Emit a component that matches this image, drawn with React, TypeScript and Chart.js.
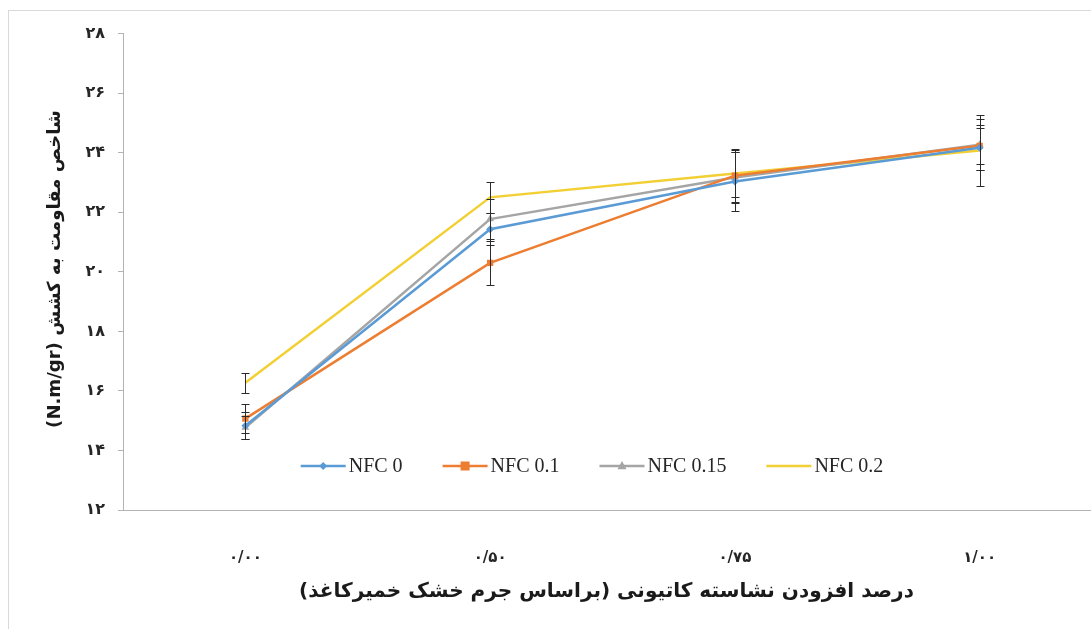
import React, { useEffect, useRef } from 'react';
import { Chart, registerables } from 'chart.js';

Chart.register(...registerables);

// ---- data ----
const categories = ['۰/۰۰', '۰/۵۰', '۰/۷۵', '۱/۰۰'];
const seriesNames = ['NFC 0', 'NFC 0.1', 'NFC 0.15', 'NFC 0.2'];
const nfc0 = [14.83, 21.43, 23.03, 24.17];
const nfc01 = [15.07, 20.3, 23.23, 24.23];
const nfc015 = [14.77, 21.77, 23.17, 24.27];
const nfc02 = [16.27, 22.5, 23.3, 24.07];
const err0 = [0.45, 0.53, 1.0, 0.75];
const err01 = [0.5, 0.73, 0.9, 0.6];
const err015 = [0.4, 0.67, 0.85, 0.85];
const err02 = [0.33, 0.53, 0.8, 1.2];
const yMin = 12;
const yMax = 28;
const yStep = 2;
const yTitle = 'شاخص مقاومت به کشش (N.m/gr)';
const xTitle = 'درصد افزودن نشاسته کاتیونی (براساس جرم خشک خمیرکاغذ)';

const toFa = (s: string) => s.replace(/\d/g, (d) => '۰۱۲۳۴۵۶۷۸۹'[+d]);

const CW = 1120;
const CH = 625;

function drawMarker(ctx: CanvasRenderingContext2D, style: string, x: number, y: number, r: number, color: string) {
  if (!style || r <= 0) return;
  ctx.save();
  ctx.fillStyle = color;
  ctx.beginPath();
  if (style === 'rectRot') {
    ctx.moveTo(x, y - r);
    ctx.lineTo(x + r, y);
    ctx.lineTo(x, y + r);
    ctx.lineTo(x - r, y);
  } else if (style === 'rect') {
    ctx.rect(x - r, y - r, 2 * r, 2 * r);
  } else if (style === 'triangle') {
    ctx.moveTo(x, y - r * 1.1);
    ctx.lineTo(x + r, y + r * 0.7);
    ctx.lineTo(x - r, y + r * 0.7);
  }
  ctx.closePath();
  ctx.fill();
  ctx.restore();
}

const errorBarsPlugin = {
  id: 'errorBars',
  afterDatasetsDraw(chart: any) {
    const { ctx } = chart;
    const ys = chart.scales.y;
    chart.data.datasets.forEach((ds: any, i: number) => {
      const meta = chart.getDatasetMeta(i);
      (ds.errors || []).forEach((e: number, j: number) => {
        const pt = meta.data[j];
        if (!pt) return;
        const v = ds.data[j];
        const x = Math.round(pt.x) + 0.5;
        const y1 = Math.round(ys.getPixelForValue(v + e)) + 0.5;
        const y2 = Math.round(ys.getPixelForValue(v - e)) + 0.5;
        ctx.save();
        ctx.strokeStyle = '#2b2b2b';
        ctx.lineWidth = 1;
        ctx.beginPath();
        ctx.moveTo(x, y1);
        ctx.lineTo(x, y2);
        ctx.moveTo(x - 4, y1);
        ctx.lineTo(x + 4, y1);
        ctx.moveTo(x - 4, y2);
        ctx.lineTo(x + 4, y2);
        ctx.stroke();
        ctx.restore();
      });
    });
  },
};

const legendPlugin = {
  id: 'insideLegend',
  afterDraw(chart: any) {
    const { ctx } = chart;
    const cx = 583;
    const cy = 455;
    const lineLen = 45;
    const gap = 3;
    const itemGap = 40;
    ctx.save();
    ctx.font = '20px "Liberation Serif"';
    ctx.textBaseline = 'middle';
    ctx.textAlign = 'left';
    const items = chart.data.datasets.map((ds: any) => ({
      ds,
      w: lineLen + gap + ctx.measureText(ds.label).width,
    }));
    const total = items.reduce((a: number, it: any) => a + it.w, 0) + itemGap * (items.length - 1);
    let x = cx - total / 2;
    items.forEach((it: any) => {
      const ds = it.ds;
      ctx.strokeStyle = ds.borderColor;
      ctx.lineWidth = 2.5;
      ctx.beginPath();
      ctx.moveTo(x, cy);
      ctx.lineTo(x + lineLen, cy);
      ctx.stroke();
      drawMarker(ctx, ds.pointStyle, x + lineLen / 2, cy, ds.pointRadius, ds.borderColor);
      ctx.fillStyle = '#262626';
      ctx.fillText(ds.label, x + lineLen + gap, cy + 1);
      x += it.w + itemGap;
    });
    ctx.restore();
  },
};

function fitFont(ctx: CanvasRenderingContext2D, text: string, target: number, base: number) {
  ctx.font = `bold ${base}px "DejaVu Sans"`;
  const w = ctx.measureText(text).width;
  let s = (base * target) / w;
  s = Math.max(13, Math.min(22, s));
  ctx.font = `bold ${s}px "DejaVu Sans"`;
}

const titlesPlugin = {
  id: 'titles',
  afterDraw(chart: any) {
    const { ctx, chartArea } = chart;
    ctx.save();
    (ctx as any).direction = 'rtl';
    ctx.fillStyle = '#1a1a1a';
    ctx.textAlign = 'center';
    ctx.textBaseline = 'middle';
    fitFont(ctx, xTitle, 615, 19);
    ctx.fillText(xTitle, (chartArea.left + chartArea.right) / 2 - 6, 581);
    ctx.restore();

    ctx.save();
    (ctx as any).direction = 'rtl';
    ctx.fillStyle = '#1a1a1a';
    ctx.textAlign = 'center';
    ctx.textBaseline = 'middle';
    ctx.translate(46, 258);
    ctx.rotate(-Math.PI / 2);
    fitFont(ctx, yTitle, 318, 19);
    ctx.fillText(yTitle, 0, 0);
    ctx.restore();
  },
};

export default function App() {
  const ref = useRef<HTMLCanvasElement | null>(null);

  useEffect(() => {
    if (!ref.current) return;
    const mk = (label: string, data: number[], errors: number[], color: string, style: string | false, r: number) => ({
      label,
      data,
      errors,
      borderColor: color,
      backgroundColor: color,
      borderWidth: 2.5,
      pointStyle: style,
      pointRadius: r,
      pointHoverRadius: r,
      pointBorderWidth: 0,
      tension: 0,
      fill: false,
    });
    const chart = new Chart(ref.current, {
      type: 'line',
      data: {
        labels: categories,
        datasets: [
          mk(seriesNames[0], nfc0, err0, '#5B9BD5', 'rectRot', 4),
          mk(seriesNames[1], nfc01, err01, '#ED7D31', 'rect', 4.5),
          mk(seriesNames[2], nfc015, err015, '#A5A5A5', 'triangle', 4.5),
          mk(seriesNames[3], nfc02, err02, '#F2D034', false, 0),
        ] as any,
      },
      options: {
        responsive: false,
        maintainAspectRatio: false,
        animation: false,
        devicePixelRatio: 1,
        layout: { padding: { left: 0, top: 19, right: 27, bottom: 0 } },
        plugins: {
          legend: { display: false },
          tooltip: { enabled: false },
          title: { display: false },
        },
        scales: {
          x: {
            type: 'category',
            offset: true,
            grid: { display: false },
            border: { display: true, color: '#b3b3b3', width: 1 },
            ticks: {
              padding: 31,
              color: '#262626',
              font: { family: '"DejaVu Sans"', size: 15, weight: 'bold' },
              maxRotation: 0,
            },
            afterFit: (s: any) => {
              s.height = 126;
            },
          },
          y: {
            min: yMin,
            max: yMax,
            grid: {
              display: true,
              drawOnChartArea: false,
              drawTicks: true,
              tickLength: 5,
              color: '#b3b3b3',
            },
            border: { display: true, color: '#b3b3b3', width: 1 },
            ticks: {
              stepSize: yStep,
              padding: 13,
              color: '#262626',
              font: { family: '"DejaVu Sans"', size: 16, weight: 'bold' },
              callback: (v: any) => toFa(String(v)),
            },
            afterFit: (s: any) => {
              s.width = 114;
            },
          },
        },
      } as any,
      plugins: [errorBarsPlugin, legendPlugin, titlesPlugin],
    });
    return () => chart.destroy();
  }, []);

  return (
    <div
      style={{
        position: 'fixed',
        left: 8,
        top: 10,
        width: CW,
        height: 640,
        border: '1px solid #d9d9d9',
        background: '#fff',
        overflow: 'hidden',
      }}
    >
      <canvas ref={ref} width={CW} height={CH} style={{ display: 'block', width: CW, height: CH }} />
    </div>
  );
}
